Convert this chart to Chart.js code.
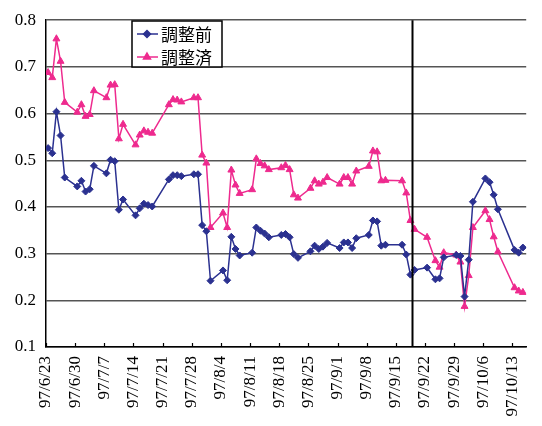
<!DOCTYPE html>
<html>
<head>
<meta charset="utf-8">
<script src="https://cdn.jsdelivr.net/npm/chart.js@4.4.1/dist/chart.umd.min.js"></script>
<style>
  body { margin: 0; background: #fff; }
  canvas { display: block; }
</style>
</head>
<body>
<canvas id="myChart" width="542" height="426"></canvas>
<script>
// trading days, 1997
const dates = [
  '6/23','6/24','6/25','6/26','6/27','6/30','7/1','7/2','7/3','7/4',
  '7/7','7/8','7/9','7/10','7/11','7/14','7/15','7/16','7/17','7/18',
  '7/22','7/23','7/24','7/25','7/28','7/29','7/30','7/31','8/1',
  '8/4','8/5','8/6','8/7','8/8','8/11','8/12','8/13','8/14','8/15',
  '8/18','8/19','8/20','8/21','8/22','8/25','8/26','8/27','8/28','8/29',
  '9/1','9/2','9/3','9/4','9/5','9/8','9/9','9/10','9/11','9/12',
  '9/16','9/17','9/18','9/19','9/22','9/24','9/25','9/26',
  '9/29','9/30','10/1','10/2','10/3','10/6','10/7','10/8','10/9',
  '10/13','10/14','10/15'
];
const before = [
  0.526,0.515,0.604,0.553,0.463,0.444,0.456,0.433,0.438,0.488,
  0.472,0.501,0.498,0.394,0.416,0.382,0.397,0.407,0.404,0.401,
  0.459,0.468,0.468,0.466,0.470,0.470,0.361,0.348,0.242,
  0.264,0.243,0.336,0.310,0.296,0.302,0.356,0.349,0.343,0.335,
  0.340,0.342,0.335,0.299,0.291,0.305,0.317,0.310,0.315,0.323,
  0.312,0.324,0.324,0.312,0.333,0.340,0.371,0.369,0.317,0.319,
  0.319,0.298,0.255,0.265,0.270,0.245,0.247,0.292,
  0.297,0.295,0.208,0.287,0.411,0.461,0.453,0.426,0.395,
  0.308,0.302,0.313
];
const adjusted = [
  0.688,0.677,0.760,0.712,0.624,0.603,0.619,0.594,0.598,0.649,
  0.634,0.661,0.662,0.546,0.577,0.533,0.554,0.563,0.560,0.558,
  0.619,0.630,0.629,0.625,0.634,0.634,0.511,0.494,0.356,
  0.387,0.356,0.479,0.447,0.429,0.437,0.503,0.493,0.488,0.480,
  0.484,0.489,0.480,0.426,0.419,0.440,0.456,0.449,0.453,0.463,
  0.449,0.463,0.463,0.449,0.477,0.487,0.520,0.518,0.456,0.457,
  0.456,0.430,0.371,0.352,0.335,0.285,0.271,0.302,
  0.297,0.282,0.187,0.253,0.356,0.392,0.373,0.336,0.304,
  0.227,0.220,0.217
];
const tickLabels = [
  '97/6/23','97/6/30','97/7/7','97/7/14','97/7/21','97/7/28','97/8/4','97/8/11',
  '97/8/18','97/8/25','97/9/1','97/9/8','97/9/15','97/9/22','97/9/29','97/10/6','97/10/13'
];
const seriesNames = ['調整前', '調整済'];
const splitDate = '9/19';

const start = new Date(1997, 5, 23);
function dayOf(s) {
  let [m, d] = s.split('/').map(Number);
  return Math.round((new Date(1997, m - 1, d) - start) / 86400000);
}
// excel date axis puts each point in the middle of its day
const toPoints = vals => vals.map((v, i) => ({ x: dayOf(dates[i]) + 0.5, y: v }));

const blue = '#2b3190';
const pink = '#ee2a8e';

const extras = {
  id: 'extras',
  afterDraw(chart) {
    const ctx = chart.ctx;
    const xs = chart.scales.x, area = chart.chartArea;
    ctx.save();
    // inner tick marks
    ctx.strokeStyle = '#000';
    ctx.lineWidth = 1.2;
    xs.ticks.forEach(t => {
      let px = Math.round(xs.getPixelForValue(t.value)) + 0.5;
      ctx.beginPath();
      ctx.moveTo(px, area.bottom);
      ctx.lineTo(px, area.bottom - 4);
      ctx.stroke();
    });
    // split line
    let sx = xs.getPixelForValue(dayOf(splitDate));
    ctx.lineWidth = 2;
    ctx.beginPath();
    ctx.moveTo(sx, area.top);
    ctx.lineTo(sx, area.bottom);
    ctx.stroke();
    // legend box
    ctx.fillStyle = '#fff';
    ctx.fillRect(132, 21, 90, 46);
    ctx.lineWidth = 1.5;
    ctx.strokeRect(132, 21, 90, 46);
    chart.data.datasets.forEach((ds, i) => {
      let y = 34 + i * 23;
      ctx.strokeStyle = ds.borderColor;
      ctx.lineWidth = 1.5;
      ctx.beginPath();
      ctx.moveTo(137, y);
      ctx.lineTo(158, y);
      ctx.stroke();
      ctx.fillStyle = ds.borderColor;
      Chart.helpers.drawPoint(ctx, { pointStyle: ds.pointStyle, radius: ds.pointRadius, borderWidth: 1 }, 147, y);
      ctx.fillStyle = '#000';
      ctx.font = '17px "Noto Sans CJK JP"';
      ctx.textBaseline = 'middle';
      ctx.fillText(ds.label, 161, y + 1);
    });
    ctx.restore();
  }
};

const ctx = document.getElementById('myChart').getContext('2d');
const myChart = new Chart(ctx, {
  type: 'line',
  data: {
    datasets: [{
      label: seriesNames[0],
      data: toPoints(before),
      borderColor: blue,
      backgroundColor: blue,
      borderWidth: 1.5,
      pointStyle: 'rectRot',
      pointRadius: 3.5,
      pointBorderWidth: 1
    }, {
      label: seriesNames[1],
      data: toPoints(adjusted),
      borderColor: pink,
      backgroundColor: pink,
      borderWidth: 1.5,
      pointStyle: 'triangle',
      pointRadius: 4,
      pointBorderWidth: 1
    }]
  },
  options: {
    responsive: false,
    animation: false,
    layout: { padding: { top: 16, right: 0, left: 0, bottom: 0 } },
    plugins: { legend: { display: false }, tooltip: { enabled: false } },
    elements: { line: { tension: 0 } },
    scales: {
      x: {
        type: 'linear',
        min: 0,
        max: 115.3,
        afterBuildTicks: scale => {
          scale.ticks = tickLabels.map((_, i) => ({ value: i * 7 }));
        },
        afterFit: scale => { scale.height = 79; },
        grid: { drawOnChartArea: false, drawTicks: false },
        border: { color: '#000', width: 1.5 },
        ticks: {
          minRotation: 90,
          maxRotation: 90,
          padding: 9,
          color: '#000',
          font: { family: '"Liberation Serif"', size: 17 },
          callback: (v, i) => tickLabels[i]
        }
      },
      y: {
        min: 0.1,
        max: 0.8,
        afterFit: scale => { scale.width = 46; },
        grid: { color: '#555', lineWidth: 1.5, drawTicks: false },
        border: { color: '#000', width: 1.5 },
        ticks: {
          stepSize: 0.1,
          padding: 10,
          color: '#000',
          font: { family: '"Liberation Serif"', size: 17 },
          callback: v => v.toFixed(1)
        }
      }
    }
  },
  plugins: [extras]
});
</script>
</body>
</html>
